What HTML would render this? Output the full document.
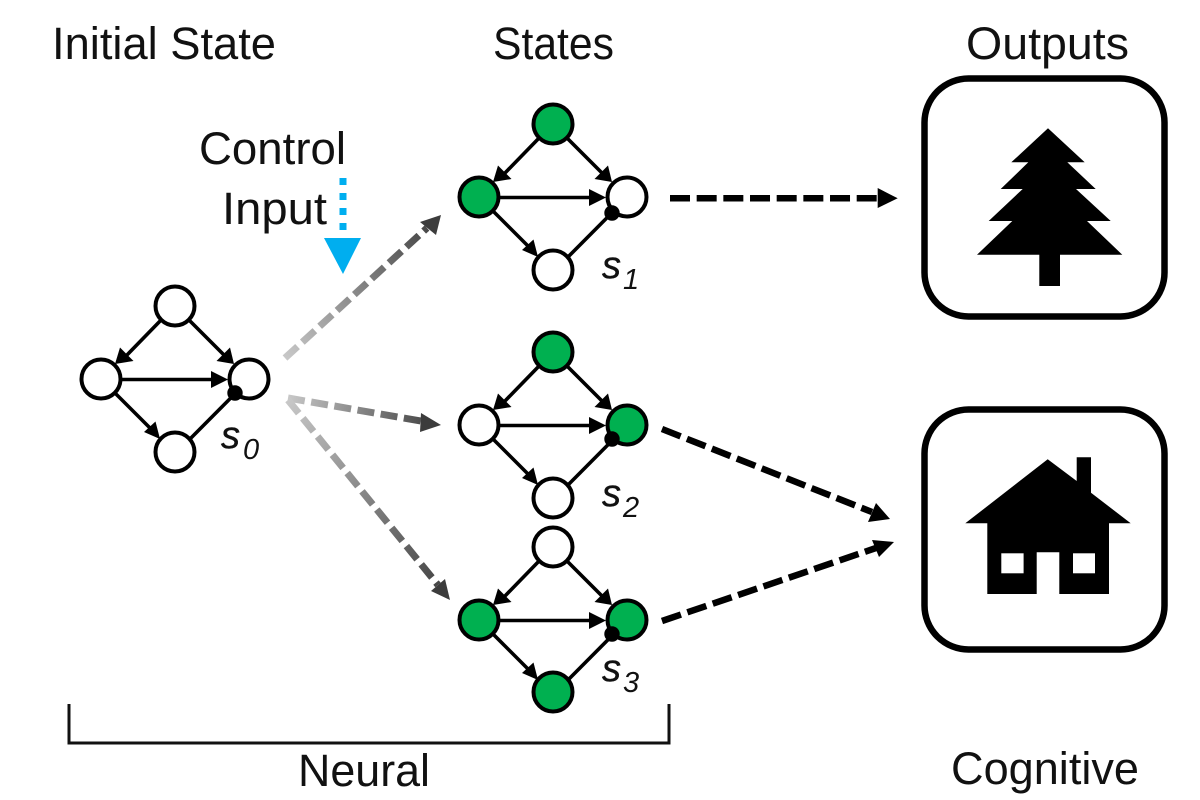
<!DOCTYPE html>
<html>
<head>
<meta charset="utf-8">
<style>
html,body{margin:0;padding:0;background:#fff;}
svg{display:block;}
.t{font-family:"Liberation Sans",sans-serif;font-size:45px;fill:#111;}
.s{font-family:"Liberation Sans",sans-serif;font-style:italic;font-size:38px;fill:#111;stroke:#111;stroke-width:.4;}
.u{font-family:"Liberation Sans",sans-serif;font-style:italic;font-size:29px;fill:#111;}
</style>
</head>
<body>
<svg width="1200" height="800" viewBox="0 0 1200 800" xmlns="http://www.w3.org/2000/svg">
<defs>
<g id="edges">
  <g stroke="#000" stroke-width="3.6" fill="none">
    <line x1="-12" y1="12" x2="-48" y2="49"/>
    <line x1="12" y1="12" x2="49" y2="49"/>
    <line x1="-60" y1="73.5" x2="40" y2="73.5"/>
    <line x1="-62" y1="85" x2="-25" y2="122"/>
    <line x1="12" y1="136" x2="58.7" y2="89"/>
  </g>
  <polygon points="-60,58 -55,41.5 -41.5,55"/>
  <polygon points="59,58 55,41.5 41.5,55"/>
  <polygon points="53,73.5 36,65 36,82"/>
  <polygon points="-15,133 -19.5,115.5 -31,126"/>
</g>
<linearGradient id="g1" gradientUnits="userSpaceOnUse" x1="285" y1="358" x2="441" y2="215"><stop offset="0" stop-color="#c8c8c8"/><stop offset="1" stop-color="#3c3c3c"/></linearGradient>
<linearGradient id="g2" gradientUnits="userSpaceOnUse" x1="288" y1="398" x2="441" y2="425"><stop offset="0" stop-color="#c8c8c8"/><stop offset="1" stop-color="#3c3c3c"/></linearGradient>
<linearGradient id="g3" gradientUnits="userSpaceOnUse" x1="288" y1="400" x2="450" y2="600"><stop offset="0" stop-color="#c8c8c8"/><stop offset="1" stop-color="#3c3c3c"/></linearGradient>
</defs>

<rect width="1200" height="800" fill="#fff"/>

<!-- titles -->
<text class="t" x="52" y="59" textLength="224" lengthAdjust="spacingAndGlyphs">Initial State</text>
<text class="t" x="493" y="59" textLength="121" lengthAdjust="spacingAndGlyphs">States</text>
<text class="t" x="966" y="59" textLength="163" lengthAdjust="spacingAndGlyphs">Outputs</text>
<text class="t" x="199" y="164" textLength="147" lengthAdjust="spacingAndGlyphs">Control</text>
<text class="t" x="222" y="224" textLength="105" lengthAdjust="spacingAndGlyphs">Input</text>
<text class="t" x="298" y="786" textLength="132" lengthAdjust="spacingAndGlyphs">Neural</text>
<text class="t" x="951" y="784" textLength="188" lengthAdjust="spacingAndGlyphs">Cognitive</text>

<!-- control input -->
<line x1="343" y1="178" x2="343" y2="230" stroke="#00aeef" stroke-width="7" stroke-dasharray="7 8"/>
<polygon points="324,238 361,238 343,274" fill="#00aeef"/>

<!-- graph s0 -->
<g transform="translate(175,306)">
  <use href="#edges"/>
  <g stroke="#000" stroke-width="4" fill="#fff">
    <circle cx="0" cy="0" r="19.5"/><circle cx="-74" cy="73" r="19.5"/><circle cx="74" cy="73" r="19.5"/><circle cx="0" cy="146" r="19.5"/>
  </g>
  <circle cx="60" cy="87" r="7.7" fill="#000"/>
</g>
<!-- graph s1 -->
<g transform="translate(553,124)">
  <use href="#edges"/>
  <g stroke="#000" stroke-width="4">
    <circle cx="0" cy="0" r="19.5" fill="#00b050"/><circle cx="-74" cy="73" r="19.5" fill="#00b050"/><circle cx="74" cy="73" r="19.5" fill="#fff"/><circle cx="0" cy="146" r="19.5" fill="#fff"/>
  </g>
  <circle cx="59" cy="89" r="7.7" fill="#000"/>
</g>
<!-- graph s2 -->
<g transform="translate(553,352)">
  <use href="#edges"/>
  <g stroke="#000" stroke-width="4">
    <circle cx="0" cy="0" r="19.5" fill="#00b050"/><circle cx="-74" cy="73" r="19.5" fill="#fff"/><circle cx="74" cy="73" r="19.5" fill="#00b050"/><circle cx="0" cy="146" r="19.5" fill="#fff"/>
  </g>
  <circle cx="59" cy="87" r="7.7" fill="#000"/>
</g>
<!-- graph s3 -->
<g transform="translate(553,547)">
  <use href="#edges"/>
  <g stroke="#000" stroke-width="4">
    <circle cx="0" cy="0" r="19.5" fill="#fff"/><circle cx="-74" cy="73" r="19.5" fill="#00b050"/><circle cx="74" cy="73" r="19.5" fill="#00b050"/><circle cx="0" cy="145" r="19.5" fill="#00b050"/>
  </g>
  <circle cx="59" cy="87" r="7.7" fill="#000"/>
</g>

<!-- state labels -->
<text class="s" x="221" y="448">s</text><text class="u" x="243" y="459">0</text>
<text class="s" x="602" y="278">s</text><text class="u" x="623" y="289">1</text>
<text class="s" x="602" y="506">s</text><text class="u" x="623" y="517">2</text>
<text class="s" x="602" y="681">s</text><text class="u" x="623" y="692">3</text>

<!-- gradient arrows -->
<line x1="285" y1="358" x2="427" y2="228" stroke="url(#g1)" stroke-width="7" stroke-dasharray="17 6.5"/>
<polygon points="441,215 420,222 436,235" fill="#3c3c3c"/>
<line x1="288" y1="398" x2="421" y2="421" stroke="url(#g2)" stroke-width="7" stroke-dasharray="17 6.5"/>
<polygon points="441,425 421,413 420,432" fill="#3c3c3c"/>
<line x1="288" y1="400" x2="438" y2="585" stroke="url(#g3)" stroke-width="7" stroke-dasharray="17 6.5"/>
<polygon points="450,600 445,579 431,591" fill="#3c3c3c"/>

<!-- black dashed arrows -->
<line x1="670" y1="198.3" x2="878" y2="198.3" stroke="#000" stroke-width="6.5" stroke-dasharray="20 6.67"/>
<polygon points="897.7,198.3 877.7,188 877.7,208" fill="#000"/>
<line x1="662" y1="429" x2="872" y2="512" stroke="#000" stroke-width="6.5" stroke-dasharray="20 6.8"/>
<polygon points="890,519 876,503 868,522" fill="#000"/>
<line x1="662" y1="621" x2="876" y2="548" stroke="#000" stroke-width="6.5" stroke-dasharray="20 6.8"/>
<polygon points="894,542 872,540 879,557" fill="#000"/>

<!-- output boxes -->
<rect x="924.5" y="78.5" width="240" height="238" rx="44" ry="44" fill="#fff" stroke="#000" stroke-width="6.5"/>
<rect x="924.5" y="409.5" width="240" height="240" rx="44" ry="44" fill="#fff" stroke="#000" stroke-width="6.5"/>

<!-- tree -->
<polygon fill="#000" points="1048,128.3 1084.7,162.3 1067.3,162.3 1095.7,189 1076,189 1110.7,221 1087,221 1122.3,254.7 1060,254.7 1060,286 1039.3,286 1039.3,254.7 977,254.7 1012.3,221 988.7,221 1022.7,189 1000.7,189 1028.3,162.3 1011.3,162.3"/>

<!-- house -->
<polygon fill="#000" points="965.3,523.3 1047.7,459.3 1076.7,481 1076.7,457.3 1091,457.3 1091,492.7 1130.7,523.3 1109,523.3 1109,594 1059.3,594 1059.3,552.3 1036.7,552.3 1036.7,594 987.3,594 987.3,523.3"/>
<rect x="1001.3" y="553.3" width="22.3" height="20" fill="#fff"/>
<rect x="1073" y="553.3" width="22" height="20" fill="#fff"/>

<!-- bracket -->
<path d="M69 704 V743 H669 V704" fill="none" stroke="#111" stroke-width="3"/>
</svg>
</body>
</html>
